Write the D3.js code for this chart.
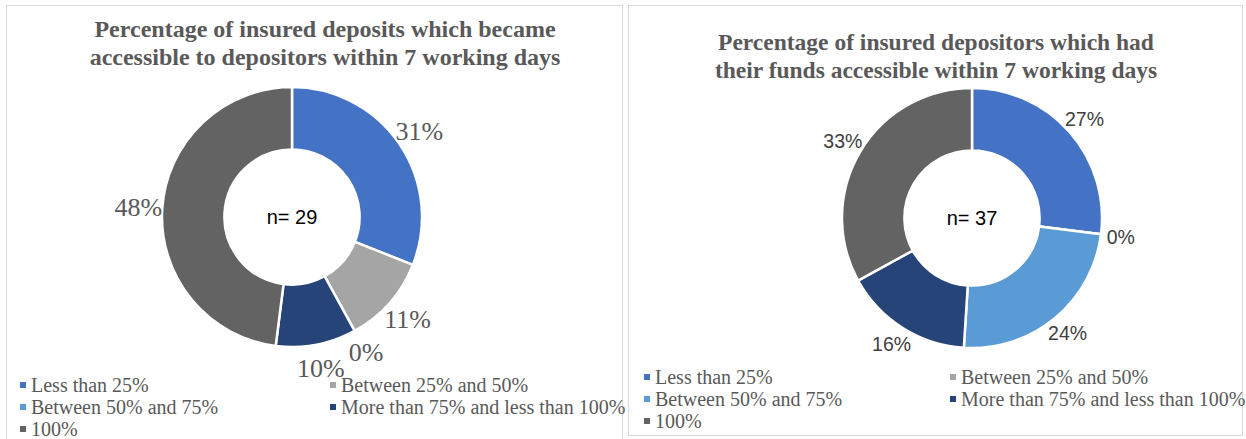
<!DOCTYPE html>
<html>
<head>
<meta charset="utf-8">
<script src="https://cdn.jsdelivr.net/npm/d3@7"></script>
<style>
  body { margin: 0; background: #fff; }
</style>
</head>
<body>
<div id="canvas"></div>
<script>
// data
const categories = ["Less than 25%", "Between 25% and 50%", "Between 50% and 75%", "More than 75% and less than 100%", "100%"]
const colors = ["#4472C4", "#A5A5A5", "#5B9BD5", "#264478", "#636363"]
const depositsShare = [31, 11, 0, 10, 48]
const depositorsShare = [27, 0, 24, 16, 33]
const leftTitle = ["Percentage of insured deposits which became", "accessible to depositors within 7 working days"]
const rightTitle = ["Percentage of insured depositors which had", "their funds accessible within 7 working days"]
const counts = ["n= 29", "n= 37"]

const svg = d3.select("#canvas").append("svg").attr("width", 1246).attr("height", 439)

const color = d3.scaleOrdinal().domain(categories).range(colors)
const pie = d3.pie().sort(null).value(d => d.value)

// one panel = border, title, donut, labels, legend
function panel(opts) {
  const g = svg.append("g")

  g.append("rect")
    .attr("x", opts.x + 0.5).attr("y", 5.5)
    .attr("width", opts.w).attr("height", opts.h)
    .attr("fill", "#fff").attr("stroke", "#d9d9d9").attr("stroke-width", 1)

  // title
  g.selectAll("text.title").data(opts.title).enter().append("text")
    .attr("class", "title")
    .attr("x", opts.titleX).attr("y", (d, i) => opts.titleY + i * 28)
    .attr("text-anchor", "middle")
    .style("font-family", "'Liberation Serif', 'Times New Roman', serif")
    .style("font-weight", "bold").style("font-size", opts.titleSize)
    .attr("fill", "#595959")
    .text(d => d)

  const data = categories.map((c, i) => ({ name: c, value: opts.values[i] }))
  const arcs = pie(data)
  const arc = d3.arc().innerRadius(opts.r * 0.52).outerRadius(opts.r)
  const labelArc = d3.arc().innerRadius(opts.labelR).outerRadius(opts.labelR)

  const donut = g.append("g").attr("transform", `translate(${opts.cx},${opts.cy})`)

  donut.selectAll("path").data(arcs).enter().append("path")
    .attr("d", arc)
    .attr("fill", d => color(d.data.name))
    .attr("stroke", "#fff").attr("stroke-width", 2.5)

  donut.selectAll("text.lbl").data(arcs).enter().append("text")
    .attr("class", "lbl")
    .attr("transform", d => `translate(${labelArc.centroid(d)})`)
    .attr("text-anchor", "middle").attr("dy", "0.35em")
    .style("font-family", opts.labelFont).style("font-size", opts.labelSize)
    .attr("fill", opts.labelColor)
    .text(d => d.data.value + "%")

  donut.append("text")
    .attr("text-anchor", "middle").attr("dy", "0.35em")
    .style("font-family", "'Liberation Sans', Arial, sans-serif").style("font-size", "20px")
    .attr("fill", "#000")
    .text(opts.count)

  // legend, two columns
  const leg = g.selectAll("g.leg").data(categories).enter().append("g")
    .attr("class", "leg")
    .attr("transform", (d, i) => `translate(${opts.legX + (i % 2) * opts.legColW},${opts.legY + Math.floor(i / 2) * 22})`)

  leg.append("rect").attr("x", 0).attr("y", -3).attr("width", 6).attr("height", 6)
    .attr("fill", d => color(d))

  leg.append("text").attr("x", 11).attr("dy", "0.35em")
    .style("font-family", "'Liberation Serif', 'Times New Roman', serif").style("font-size", "20px")
    .attr("fill", "#595959")
    .text(d => d)
}

// left panel
panel({
  x: 6, w: 616, h: 440, title: leftTitle, titleX: 325, titleY: 37, titleSize: "24px",
  values: depositsShare, cx: 292, cy: 217, r: 130, labelR: 154,
  labelFont: "'Liberation Serif', 'Times New Roman', serif", labelSize: "26px", labelColor: "#595959",
  count: counts[0], legX: 20, legY: 385, legColW: 310
})

// right panel
panel({
  x: 628, w: 614, h: 430, title: rightTitle, titleX: 936, titleY: 50, titleSize: "23.5px",
  values: depositorsShare, cx: 972, cy: 218, r: 130, labelR: 150,
  labelFont: "'Liberation Sans', Arial, sans-serif", labelSize: "19.5px", labelColor: "#404040",
  count: counts[1], legX: 644, legY: 377, legColW: 306
})
</script>
</body>
</html>
